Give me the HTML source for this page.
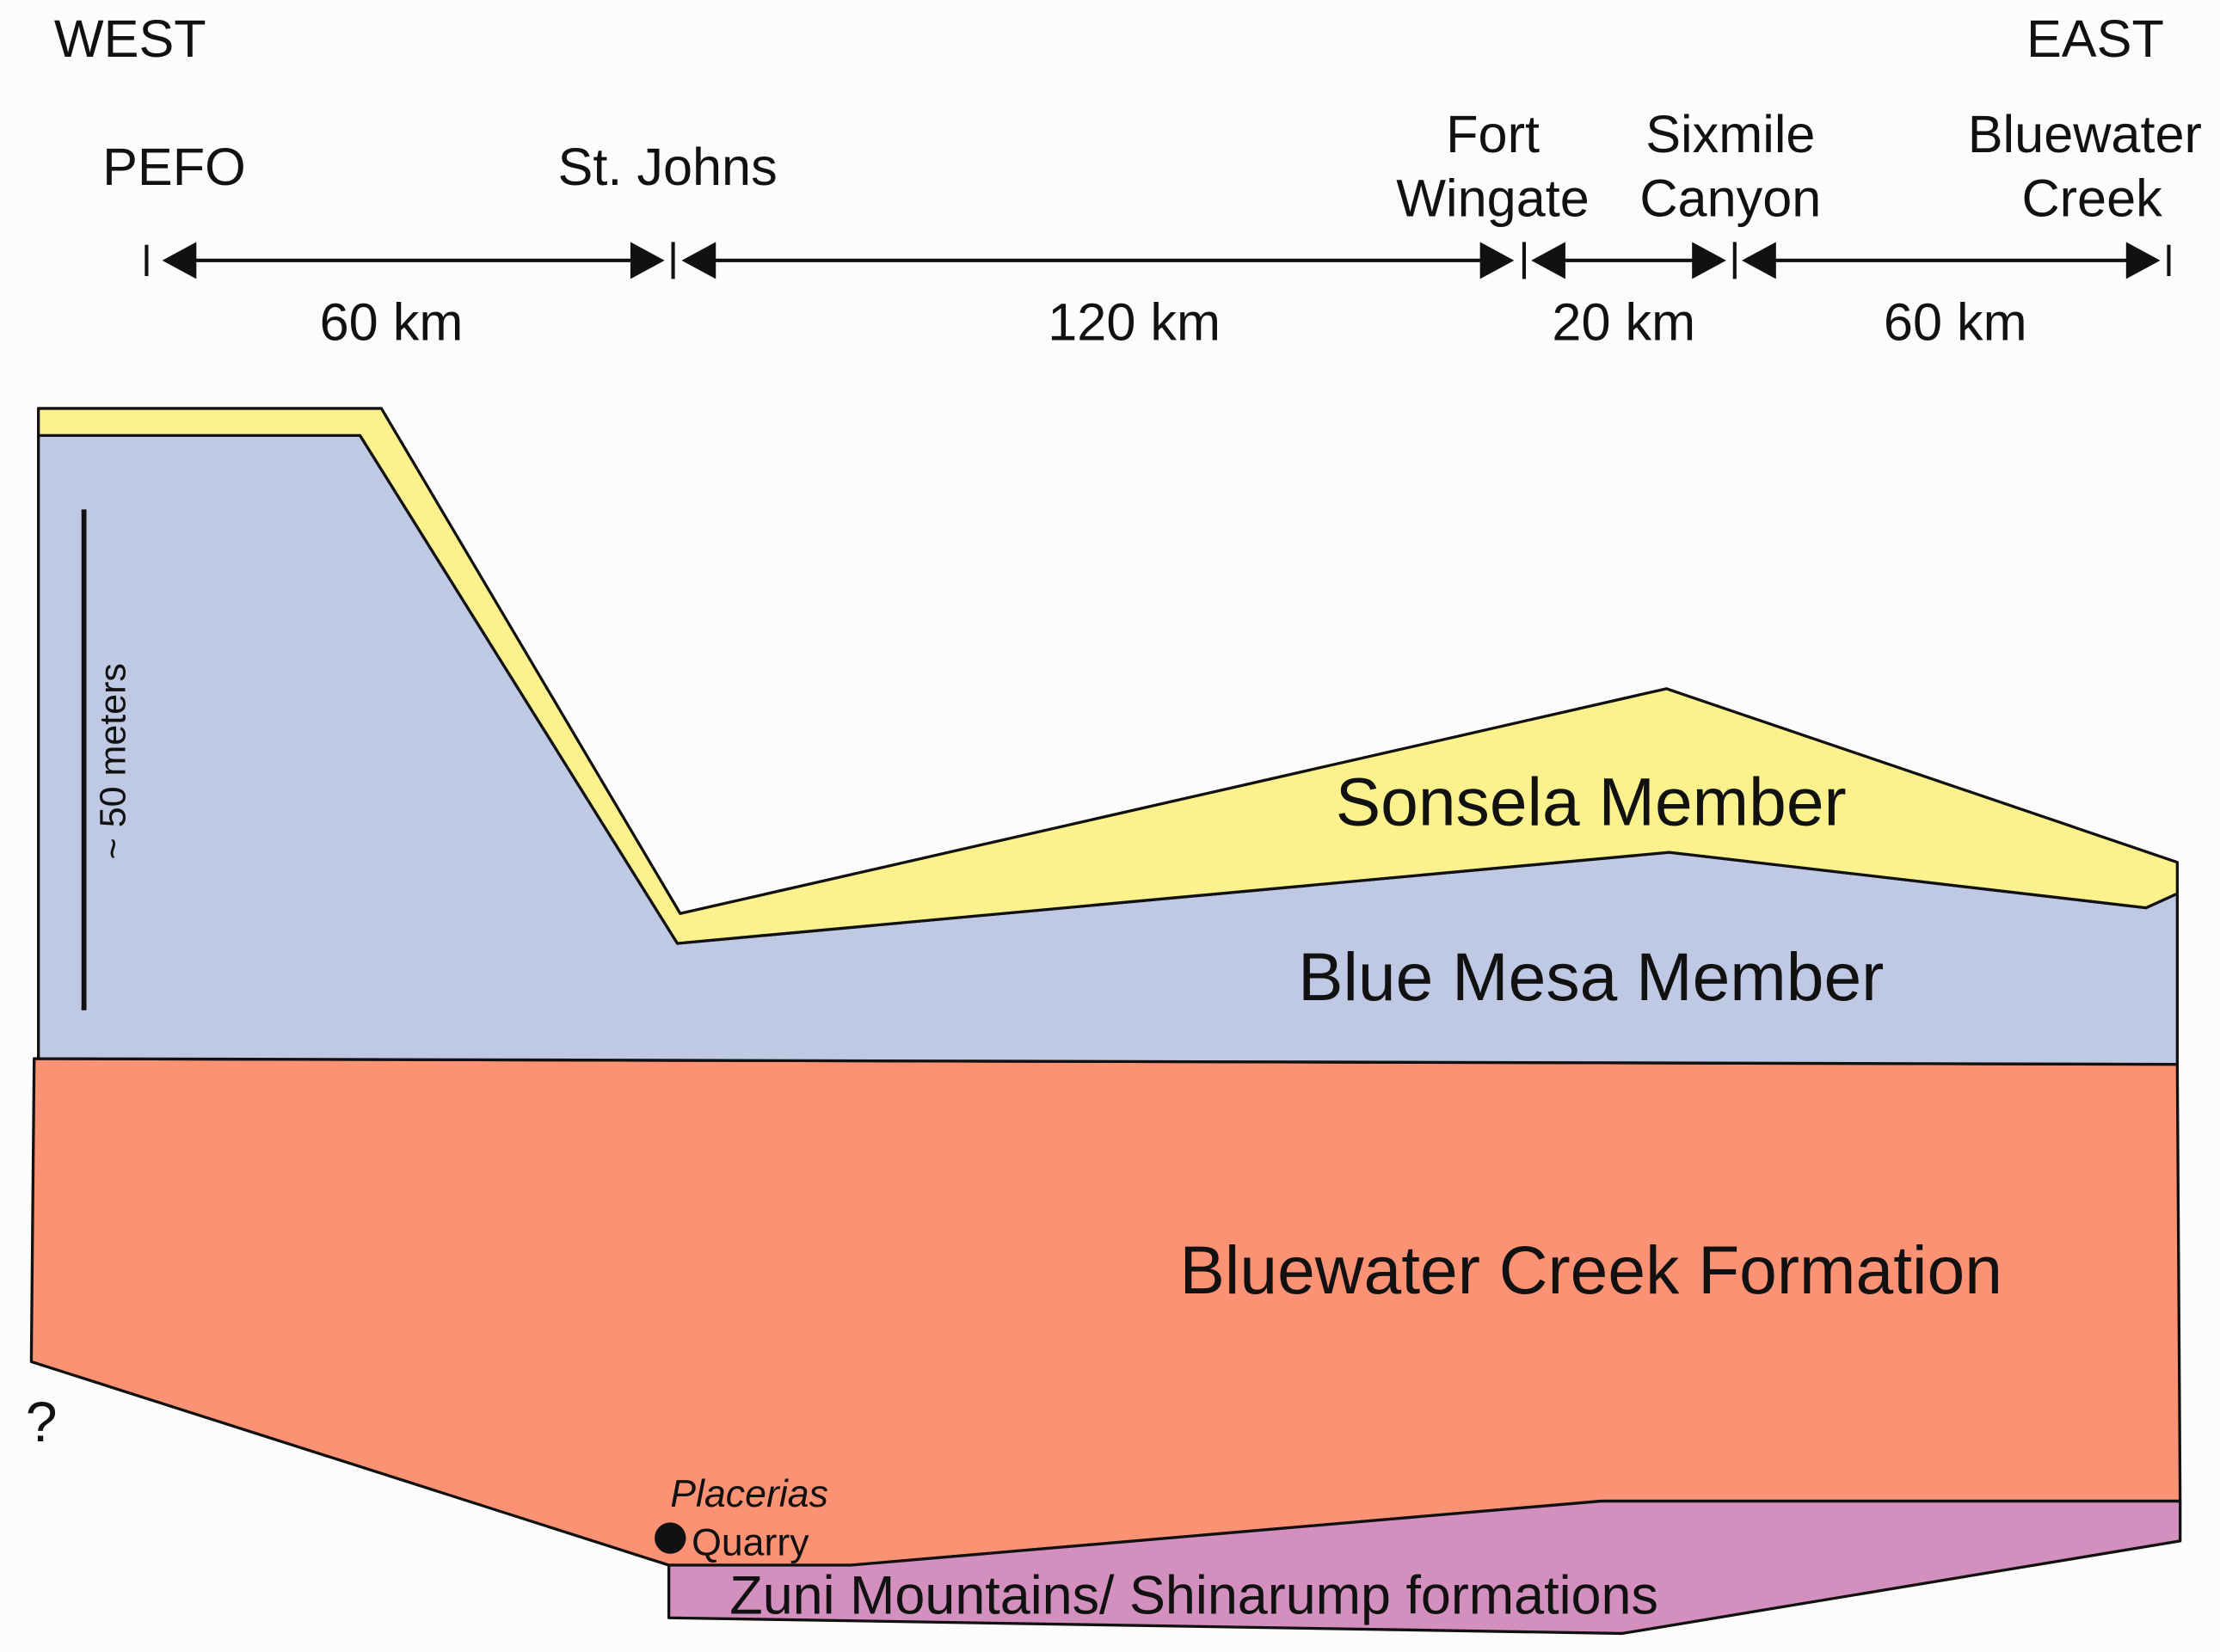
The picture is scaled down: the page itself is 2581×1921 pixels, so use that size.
<!DOCTYPE html>
<html><head><style>html,body{margin:0;padding:0;background:#fdfcfa;}svg{display:block}</style></head>
<body>
<svg width="2581" height="1921" viewBox="0 0 1560 1161" xmlns="http://www.w3.org/2000/svg" font-family="Liberation Sans, Arial, sans-serif">
<rect width="1560" height="1161" fill="#fdfcfa"/>
<g font-size="37" fill="#111">
<text x="38" y="40">WEST</text>
<text x="1424" y="40">EAST</text>
<text x="72" y="130">PEFO</text>
<text x="392" y="130">St. Johns</text>
<text x="1049" y="107" text-anchor="middle">Fort</text>
<text x="1049" y="152" text-anchor="middle">Wingate</text>
<text x="1216" y="107" text-anchor="middle">Sixmile</text>
<text x="1216" y="152" text-anchor="middle">Canyon</text>
<text x="1465" y="107" text-anchor="middle">Bluewater</text>
<text x="1470" y="152" text-anchor="middle">Creek</text>
<text x="275" y="239" text-anchor="middle">60 km</text>
<text x="797" y="239" text-anchor="middle">120 km</text>
<text x="1141" y="239" text-anchor="middle">20 km</text>
<text x="1374" y="239" text-anchor="middle">60 km</text>
</g>
<g stroke="#111" stroke-width="2.5">
<line x1="103" y1="172" x2="103" y2="194"/>
<line x1="473" y1="170" x2="473" y2="196"/>
<line x1="1071" y1="170" x2="1071" y2="196"/>
<line x1="1219" y1="170" x2="1219" y2="196"/>
<line x1="1524" y1="172" x2="1524" y2="194"/>
<line x1="130" y1="183" x2="445" y2="183"/>
<line x1="500" y1="183" x2="1042" y2="183"/>
<line x1="1097" y1="183" x2="1190" y2="183"/>
<line x1="1245" y1="183" x2="1497" y2="183"/>
</g>
<g fill="#111">
<polygon points="114,183 138,170 138,196"/>
<polygon points="467,183 443,170 443,196"/>
<polygon points="479,183 503,170 503,196"/>
<polygon points="1064,183 1040,170 1040,196"/>
<polygon points="1076,183 1100,170 1100,196"/>
<polygon points="1213,183 1189,170 1189,196"/>
<polygon points="1224,183 1248,170 1248,196"/>
<polygon points="1518,183 1494,170 1494,196"/>
</g>
<g stroke="#111" stroke-width="2" stroke-linejoin="round">
<polygon fill="#fc9274" points="24,744 1530,748 1532,1055 1125,1055 598,1100 470,1100 22,957"/>
<polygon fill="#d38fbd" points="470,1100 598,1100 1125,1055 1532,1055 1532,1083 1140,1148 470,1137"/>
<polygon fill="#c0c9e3" points="27,306 253,306 476,663 1173,599 1508,638 1530,628 1530,748 27,744"/>
<polygon fill="#fbf28e" points="27,287 268,287 478,642 1171,484 1530,606 1530,628 1508,638 1173,599 476,663 253,306 27,306"/>
</g>
<line x1="59" y1="358" x2="59" y2="710" stroke="#111" stroke-width="3.5"/>
<text transform="translate(88,535) rotate(-90)" font-size="26" text-anchor="middle" fill="#111">~ 50 meters</text>
<g fill="#111">
<text x="1118" y="580" font-size="47.5" text-anchor="middle">Sonsela Member</text>
<text x="1118" y="703" font-size="47.5" text-anchor="middle">Blue Mesa Member</text>
<text x="1118" y="909" font-size="47.5" text-anchor="middle">Bluewater Creek Formation</text>
<text x="839" y="1134" font-size="38" text-anchor="middle">Zuni Mountains/ Shinarump formations</text>
<text x="18" y="1013" font-size="40">?</text>
<text x="471" y="1059" font-size="27" font-style="italic">Placerias</text>
<text x="486" y="1093" font-size="27">Quarry</text>
<circle cx="471" cy="1081" r="11"/>
</g>
</svg>
</body></html>
